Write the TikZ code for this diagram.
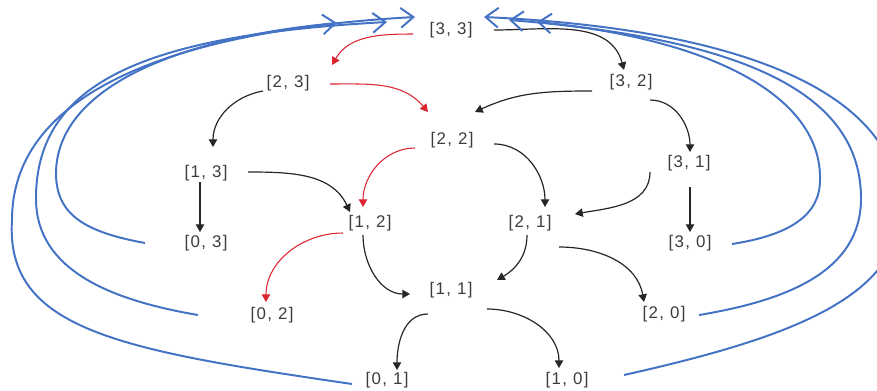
\documentclass[tikz,border=0pt]{standalone}
\usepackage{fontspec}
\usepackage{tikz}
\usetikzlibrary{arrows.meta,calc}
\newfontfamily\pairfont[LetterSpace=8]{Liberation Sans}
\definecolor{pairgray}{RGB}{60,60,60}
\definecolor{pathred}{RGB}{218,36,48}
\definecolor{backblue}{RGB}{68,114,196}

\begin{document}
\begin{tikzpicture}[
      x=0.025cm, y=0.025cm,
      pair/.style={inner sep=0pt, text=pairgray, font=\pairfont\fontsize{12}{14}\selectfont},
      move/.style={line width=0.85pt, draw=black!85, -{Triangle[length=5.5pt,width=6pt]}},
      best/.style={move, line width=0.75pt, draw=pathred, -{Triangle[length=5.5pt,width=6pt,fill=pathred]}},
      back/.style={line width=1.4pt, draw=backblue, -{Straight Barb[length=9pt,width=14pt]}}
    ]
      \clip (0,0) rectangle (877,-390);

      % states
      \node[pair] (n33) at (451,-30) {[3, 3]};
      \node[pair] (n23) at (288,-83) {[2, 3]};
      \node[pair] (n32) at (631,-82) {[3, 2]};
      \node[pair] (n22) at (452,-140) {[2, 2]};
      \node[pair] (n13) at (206,-173) {[1, 3]};
      \node[pair] (n31) at (689,-163) {[3, 1]};
      \node[pair] (n03) at (206,-243) {[0, 3]};
      \node[pair] (n12) at (370,-223) {[1, 2]};
      \node[pair] (n21) at (530,-223) {[2, 1]};
      \node[pair] (n30) at (690,-243) {[3, 0]};
      \node[pair] (n11) at (451,-290) {[1, 1]};
      \node[pair] (n02) at (272,-315) {[0, 2]};
      \node[pair] (n20) at (664,-314) {[2, 0]};
      \node[pair] (n01) at (387,-380) {[0, 1]};
      \node[pair] (n10) at (567,-380) {[1, 0]};

      % moves
      \draw[best] ($(n33)+(-38,-4)$) to[out=180,in=60] ($(n23)+(44,18)$);
      \draw[best] ($(n23)+(42,-1)$) to[out=0,in=130] ($(n22)+(-24,28)$);
      \draw[move] ($(n23)+(-25,-8)$) to[out=190,in=90] ($(n13)+(7,26)$);
      \draw[move] ($(n13)+(42,1)$) to[out=0,in=115] ($(n12)+(-20,11)$);
      \draw[move] ($(n13)+(-6,-9)$) -- ($(n03)+(-6,11)$);
      \draw[best] ($(n22)+(-37,-8)$) to[out=180,in=90] ($(n12)+(-7,16)$);
      \draw[move] ($(n33)+(43,0)$) to[out=0,in=105] ($(n32)+(-7,12)$);
      \draw[move] ($(n32)+(-39,-9)$) to[out=180,in=25] ($(n22)+(23,28)$);
      \draw[move] ($(n32)+(19,-18)$) to[out=0,in=90] ($(n31)+(1,11)$);
      \draw[move] ($(n22)+(42,-4)$) to[out=0,in=90] ($(n21)+(15,16)$);
      \draw[move] ($(n31)+(-39,-9)$) to[out=270,in=10] ($(n21)+(45,9)$);
      \draw[move] ($(n31)+(1,-24)$) -- ($(n30)+(0,11)$);
      \draw[best] ($(n12)+(-27,-10)$) to[out=180,in=90] ($(n02)+(-6,13)$);
      \draw[move] ($(n12)+(-7,-12)$) to[out=270,in=180] ($(n11)+(-41,-4)$);
      \draw[move] ($(n21)+(-3,-12)$) to[out=270,in=30] ($(n11)+(46,10)$);
      \draw[move] ($(n21)+(29,-24)$) to[out=0,in=100] ($(n20)+(-20,12)$);
      \draw[move] ($(n11)+(-23,-24)$) to[out=180,in=90] ($(n01)+(10,10)$);
      \draw[move] ($(n11)+(36,-19)$) to[out=0,in=90] ($(n10)+(-8,12)$);

      % back to the start
      \draw[back] ($(n03)+(-61,0)$) .. controls (85,-232) and (57,-215) .. (56,-175)
        .. controls (55,-95) and (160,-40) .. ($(n33)+(-114,7)$);
      \draw[back] ($(n02)+(-74,0)$) .. controls (110,-300) and (37,-270) .. (36,-200)
        .. controls (35,-80) and (150,-35) .. ($(n33)+(-64,8)$);
      \draw[back] ($(n01)+(-35,-4)$) .. controls (120,-350) and (5,-330) .. (12,-220)
        .. controls (12,-90) and (180,-30) .. ($(n33)+(-36,13)$);
      \draw[back] ($(n30)+(42,-1)$) .. controls (790,-235) and (820,-215) .. (820,-180)
        .. controls (822,-100) and (720,-40) .. ($(n33)+(86,8)$);
      \draw[back] ($(n20)+(35,-1)$) .. controls (790,-300) and (860,-270) .. (861,-200)
        .. controls (862,-100) and (760,-40) .. ($(n33)+(58,10)$);
      \draw[back] ($(n10)+(57,5)$) .. controls (780,-340) and (900,-300) .. (900,-210)
        .. controls (900,-100) and (760,-30) .. ($(n33)+(33,13)$);
    \end{tikzpicture}
\end{document}
